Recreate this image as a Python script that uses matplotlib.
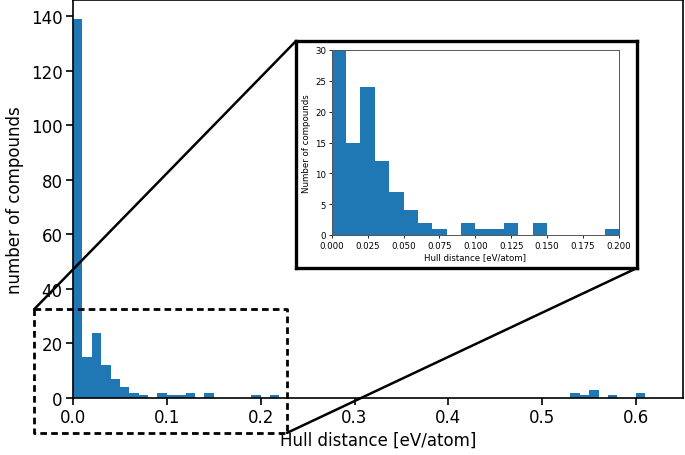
import matplotlib
matplotlib.use("Agg")
import matplotlib.pyplot as plt
from matplotlib.patches import ConnectionPatch
import numpy as np

# histogram data, bins of 0.01 eV/atom starting at 0
bin_width = 0.01
counts = [139, 15, 24, 12, 7, 4, 2, 1, 0, 2,
          1, 1, 2, 0, 2, 0, 0, 0, 0, 1,
          0, 1, 0, 0, 0, 0, 0, 0, 0, 0,
          0, 0, 0, 0, 0, 0, 0, 0, 0, 0,
          0, 0, 0, 0, 0, 0, 0, 0, 0, 0,
          0, 0, 0, 2, 1, 3, 0, 1, 0, 0,
          2]
bin_left = np.arange(len(counts)) * bin_width

main_xticks = [0.0, 0.1, 0.2, 0.3, 0.4, 0.5, 0.6]
main_yticks = [0, 20, 40, 60, 80, 100, 120, 140]
inset_xticks = [0.0, 0.025, 0.05, 0.075, 0.1, 0.125, 0.15, 0.175, 0.2]
inset_yticks = [0, 5, 10, 15, 20, 25, 30]

fig = plt.figure(figsize=(6.85, 4.56), dpi=100)

# main axes
ax = fig.add_axes([73/685, 57/456, 610/685, 398/456])
ax.bar(bin_left, counts, width=bin_width, align='edge', color='#1f77b4')
ax.set_xlim(0, 0.65)
ax.set_ylim(0, 139 * 1.05)
ax.set_xticks(main_xticks)
ax.set_xticklabels(["%.1f" % t for t in main_xticks])
ax.set_yticks(main_yticks)
ax.tick_params(labelsize=12, length=5, width=1.2, pad=2.5)
for s in ax.spines.values():
    s.set_linewidth(1.2)
ax.set_xlabel("Hull distance [eV/atom]", fontsize=12, labelpad=3)
ax.set_ylabel("number of compounds", fontsize=12, labelpad=5)

# dashed zoom region
x0, x1 = -0.0415, 0.228
y0, y1 = -12.8, 32.5
ax.plot([x0, x1, x1, x0, x0], [y1, y1, y0, y0, y1], color='black',
        lw=2, linestyle=(0, (2.4, 1.5)), clip_on=False)

# inset frame
box = [296/685, 187/456, 341/685, 227/456]
ax_box = fig.add_axes(box)
ax_box.set_xticks([])
ax_box.set_yticks([])
ax_box.set_facecolor('white')
for s in ax_box.spines.values():
    s.set_linewidth(2.4)

# connecting lines
con1 = ConnectionPatch(xyA=(x0, y1), coordsA=ax.transData,
                       xyB=(box[0], box[1] + box[3]), coordsB=fig.transFigure,
                       color='black', lw=1.8)
con2 = ConnectionPatch(xyA=(x1, y0), coordsA=ax.transData,
                       xyB=(box[0] + box[2], box[1]), coordsB=fig.transFigure,
                       color='black', lw=1.8)
ax.add_artist(con1)
ax.add_artist(con2)

# inset histogram
ax_in = fig.add_axes([331.7/685, 220/456, 287.3/685, 185/456])
ax_in.bar(bin_left, counts, width=bin_width, align='edge', color='#1f77b4')
ax_in.set_xlim(0, 0.2)
ax_in.set_ylim(0, 30)
ax_in.set_xticks(inset_xticks)
ax_in.set_xticklabels(["%.3f" % t for t in inset_xticks])
ax_in.set_yticks(inset_yticks)
ax_in.tick_params(labelsize=6.2, length=2.5, width=0.6, pad=1.5)
for s in ax_in.spines.values():
    s.set_linewidth(0.7)
    s.set_color('#555555')
ax_in.set_xlabel("Hull distance [eV/atom]", fontsize=6.2, labelpad=2)
ax_in.set_ylabel("Number of compounds", fontsize=6.2, labelpad=3)

fig.savefig("out.png", dpi=100)
